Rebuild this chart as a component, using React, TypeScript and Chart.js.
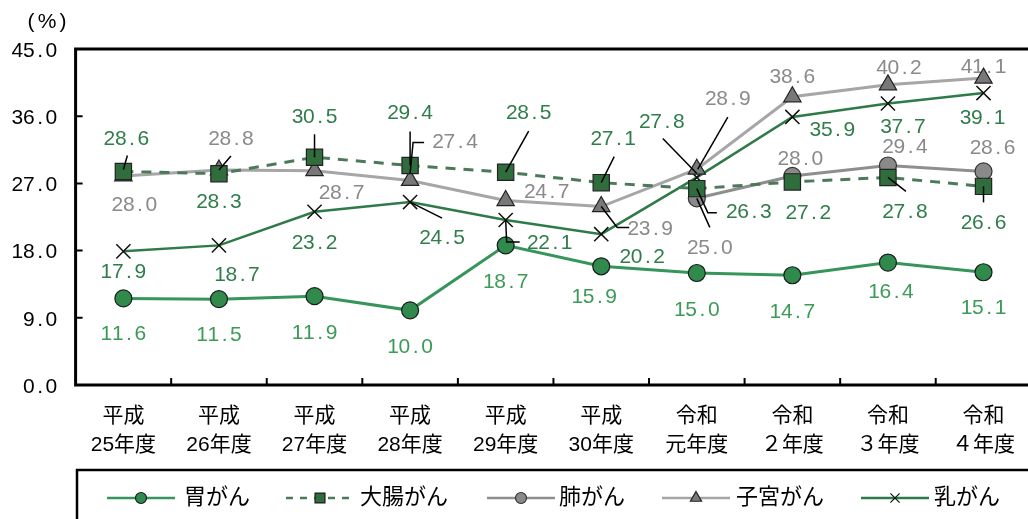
import React, { useEffect, useRef } from 'react';
import { Chart, registerables } from 'chart.js';

Chart.register(...registerables);

// ---------- data ----------
const categoriesTop = ['平成', '平成', '平成', '平成', '平成', '平成', '令和', '令和', '令和', '令和'];
const categoriesBottom = ['25年度', '26年度', '27年度', '28年度', '29年度', '30年度', '元年度', '２年度', '３年度', '４年度'];
const seriesNames = ['胃がん', '大腸がん', '肺がん', '子宮がん', '乳がん'];
const stomach = [11.6, 11.5, 11.9, 10.0, 18.7, 15.9, 15.0, 14.7, 16.4, 15.1];
const colorectal = [28.6, 28.3, 30.5, 29.4, 28.5, 27.1, 26.3, 27.2, 27.8, 26.6];
const lung = [null, null, null, null, null, null, 25.0, 28.0, 29.4, 28.6];
const uterus = [28.0, 28.8, 28.7, 27.4, 24.7, 23.9, 28.9, 38.6, 40.2, 41.1];
const breast = [17.9, 18.7, 23.2, 24.5, 22.1, 20.2, 27.8, 35.9, 37.7, 39.1];
const yTicks = [0, 9, 18, 27, 36, 45];
const yMax = 45;

// ---------- label layout (offsets from the point, in px) ----------
type Off = [number, number];
const stomachLabelOff: Off[] = [[0, 36], [0, 36], [0, 37], [0, 37], [0, 37], [-7, 31], [0, 37], [0, 37], [3, 30], [0, 36]];
const colorectalLabelOff: Off[] = [[3, -32], [0, 29], [0, -40], [0, -52], [23, -59], [12, -43], [52, 24], [16, 31], [17, 35], [0, 37]];
const lungLabelOff: Off[] = [[0, 0], [0, 0], [0, 0], [0, 0], [0, 0], [0, 0], [13, 50], [8, -17], [17, -18], [9, -23]];
const uterusLabelOff: Off[] = [[11, 29], [12, -31], [27, 22], [45, -38], [41, -8], [49, 23], [31, -70], [0, -20], [11, -17], [0, -11]];
const breastLabelOff: Off[] = [[0, 21], [18, 30], [0, 31], [32, 36], [44, 23], [41, 23], [-35, -55], [40, 13], [15, 24], [-1, 25]];

type Leader = Off[] | null;
const colorectalLeaders: Leader[] = [[[4, -16], [0, -2]], null, [[0, -23], [0, 0]], [[0, -34], [0, 0]], [[23, -41], [0, 0]], [[13, -26], [0, 0]], [[0, 0], [11, 24], [20, 24]], null, [[0, 0], [18, 14]], [[0, 0], [0, 16]]];
const lungLeaders: Leader[] = [null, null, null, null, null, null, [[0, 0], [13, 29]], null, null, null];
const uterusLeaders: Leader[] = [null, [[12, -14], [0, 0]], null, [[14, -38], [3, -38], [0, -7]], null, [[0, 0], [16, 21], [28, 21]], [[31, -52], [1, 0]], null, null, null];
const breastLeaders: Leader[] = [null, null, null, [[0, 0], [32, 16]], [[0, 0], [1, 22], [14, 22]], null, [[-34, -39], [0, -4]], null, null, null];

// ---------- styles ----------
const COL_STOMACH_LINE = '#36955a';
const COL_STOMACH_PT = '#2f8a4c';
const COL_STOMACH_LBL = '#3d9a58';
const COL_CR_LINE = '#4b7a5b';
const COL_CR_PT = '#2f6d3d';
const COL_DKGREEN_LBL = '#2f7d4a';
const COL_LUNG_LINE = '#8e8e8e';
const COL_LUNG_PT = '#8a8a8a';
const COL_UT_LINE = '#a6a6a6';
const COL_UT_PT = '#787878';
const COL_GRAY_LBL = '#8a8a8a';
const COL_BREAST_LINE = '#2e7a48';

const NUM_FONT = '21px "Liberation Sans", Arial, sans-serif';
const JP_FONT = '21px "Liberation Sans", "Noto Sans CJK JP", sans-serif';
const LEGEND_FONT = '22px "Liberation Sans", "Noto Sans CJK JP", sans-serif';
const CELL = 11.3;

function drawCells(ctx: CanvasRenderingContext2D, text: string, cx: number, cy: number, align: 'center' | 'right') {
  const w = text.length * CELL;
  const x0 = align === 'center' ? cx - w / 2 : cx - w;
  ctx.textAlign = 'center';
  ctx.textBaseline = 'middle';
  for (let i = 0; i < text.length; i++) ctx.fillText(text[i], x0 + CELL * (i + 0.5), cy);
}

function drawMarker(ctx: CanvasRenderingContext2D, style: string, x: number, y: number, r: number, fill: string, stroke: string, lw: number) {
  ctx.save();
  ctx.fillStyle = fill;
  ctx.strokeStyle = stroke;
  ctx.lineWidth = lw;
  ctx.beginPath();
  if (style === 'circle') {
    ctx.arc(x, y, r, 0, Math.PI * 2);
    ctx.fill();
    ctx.stroke();
  } else if (style === 'rect') {
    const s = r * Math.SQRT1_2;
    ctx.rect(x - s, y - s, 2 * s, 2 * s);
    ctx.fill();
    ctx.stroke();
  } else if (style === 'triangle') {
    const h = r * Math.sin(Math.PI / 3);
    ctx.moveTo(x, y - r);
    ctx.lineTo(x + h, y + r / 2);
    ctx.lineTo(x - h, y + r / 2);
    ctx.closePath();
    ctx.fill();
    ctx.stroke();
  } else if (style === 'crossRot') {
    const o = r * Math.SQRT1_2;
    ctx.moveTo(x - o, y - o);
    ctx.lineTo(x + o, y + o);
    ctx.moveTo(x - o, y + o);
    ctx.lineTo(x + o, y - o);
    ctx.stroke();
  }
  ctx.restore();
}

const labelSpecs = [
  { ds: 0, off: stomachLabelOff, leaders: null as Leader[] | null, color: COL_STOMACH_LBL },
  { ds: 1, off: colorectalLabelOff, leaders: colorectalLeaders, color: COL_DKGREEN_LBL },
  { ds: 2, off: lungLabelOff, leaders: lungLeaders, color: COL_GRAY_LBL },
  { ds: 3, off: uterusLabelOff, leaders: uterusLeaders, color: COL_GRAY_LBL },
  { ds: 4, off: breastLabelOff, leaders: breastLeaders, color: COL_DKGREEN_LBL },
];

const legendItems = [
  { lineX: 107, textX: 184, style: 'circle', r: 5.5, line: COL_STOMACH_LINE, fill: COL_STOMACH_PT, stroke: '#1b1b1b', dash: [] as number[] },
  { lineX: 286, textX: 360, style: 'rect', r: 7, line: COL_CR_LINE, fill: COL_CR_PT, stroke: '#1b1b1b', dash: [7, 7] },
  { lineX: 487, textX: 559, style: 'circle', r: 5.5, line: COL_LUNG_LINE, fill: COL_LUNG_PT, stroke: '#333', dash: [] as number[] },
  { lineX: 662, textX: 736, style: 'triangle', r: 6.5, line: COL_UT_LINE, fill: COL_UT_PT, stroke: '#222', dash: [] as number[] },
  { lineX: 861, textX: 934, style: 'crossRot', r: 6.5, line: COL_BREAST_LINE, fill: '#000', stroke: '#111', dash: [] as number[] },
];

const overlayPlugin = {
  id: 'overlay',
  beforeDatasetsDraw(chart: any) {
    const { ctx, chartArea: a, scales } = chart;
    const x = scales.x;
    const y = scales.y;
    ctx.save();
    ctx.fillStyle = '#fff';
    ctx.fillRect(0, 0, chart.width, chart.height);

    // frame
    ctx.strokeStyle = '#000';
    ctx.lineWidth = 3;
    ctx.beginPath();
    ctx.moveTo(a.left, a.top);
    ctx.lineTo(a.right + 10, a.top);
    ctx.moveTo(a.left, a.top - 1.5);
    ctx.lineTo(a.left, a.bottom + 1.5);
    ctx.moveTo(a.left - 1.5, a.bottom);
    ctx.lineTo(a.right + 10, a.bottom);
    ctx.stroke();

    // inner ticks
    ctx.lineWidth = 2;
    ctx.beginPath();
    yTicks.forEach((v) => {
      const py = y.getPixelForValue(v);
      ctx.moveTo(a.left, py);
      ctx.lineTo(a.left + 7, py);
    });
    for (let i = 0; i < categoriesTop.length - 1; i++) {
      const bx = (x.getPixelForValue(i) + x.getPixelForValue(i + 1)) / 2;
      ctx.moveTo(bx, a.bottom);
      ctx.lineTo(bx, a.bottom - 7);
    }
    ctx.stroke();

    // y tick labels
    ctx.fillStyle = '#000';
    ctx.font = NUM_FONT;
    yTicks.forEach((v) => {
      drawCells(ctx, v.toFixed(1), 57, y.getPixelForValue(v) + 2, 'right');
    });
    // unit
    ctx.textAlign = 'center';
    ctx.textBaseline = 'middle';
    ctx.fillText('(', 31, 22);
    ctx.fillText('%', 47, 22);
    ctx.fillText(')', 63, 22);

    // x labels
    ctx.font = JP_FONT;
    ctx.fillStyle = '#000';
    ctx.textAlign = 'center';
    ctx.textBaseline = 'middle';
    categoriesTop.forEach((t, i) => {
      const px = x.getPixelForValue(i);
      ctx.fillText(t, px, a.bottom + 31);
      ctx.fillText(categoriesBottom[i], px, a.bottom + 60);
    });

    // data labels
    ctx.font = NUM_FONT;
    labelSpecs.forEach((spec) => {
      const meta = chart.getDatasetMeta(spec.ds);
      const values = chart.data.datasets[spec.ds].data;
      ctx.fillStyle = spec.color;
      meta.data.forEach((pt: any, i: number) => {
        const v = values[i];
        if (v === null || v === undefined) return;
        const [dx, dy] = spec.off[i];
        drawCells(ctx, Number(v).toFixed(1), pt.x + dx, pt.y + dy, 'center');
      });
    });
    ctx.restore();
  },
  afterDatasetsDraw(chart: any) {
    const { ctx } = chart;
    ctx.save();
    ctx.strokeStyle = '#000';
    ctx.lineWidth = 1.5;
    labelSpecs.forEach((spec) => {
      if (!spec.leaders) return;
      const meta = chart.getDatasetMeta(spec.ds);
      const values = chart.data.datasets[spec.ds].data;
      meta.data.forEach((pt: any, i: number) => {
        const l = spec.leaders![i];
        if (!l || values[i] === null) return;
        ctx.beginPath();
        l.forEach(([dx, dy], k) => {
          if (k === 0) ctx.moveTo(pt.x + dx, pt.y + dy);
          else ctx.lineTo(pt.x + dx, pt.y + dy);
        });
        ctx.stroke();
      });
    });

    // legend box
    ctx.lineWidth = 2.5;
    ctx.strokeStyle = '#000';
    ctx.strokeRect(77, 470, 2000, 300);
    const ly = 498;
    legendItems.forEach((it, k) => {
      ctx.save();
      ctx.strokeStyle = it.line;
      ctx.lineWidth = 2.5;
      ctx.setLineDash(it.dash);
      ctx.beginPath();
      ctx.moveTo(it.lineX, ly);
      ctx.lineTo(it.lineX + 68, ly);
      ctx.stroke();
      ctx.restore();
      drawMarker(ctx, it.style, it.lineX + 34, ly, it.r, it.fill, it.stroke, 1.2);
      ctx.fillStyle = '#000';
      ctx.font = LEGEND_FONT;
      ctx.textAlign = 'left';
      ctx.textBaseline = 'middle';
      ctx.fillText(seriesNames[k], it.textX, ly);
    });
    ctx.restore();
  },
};

export default function App() {
  const canvasRef = useRef<HTMLCanvasElement | null>(null);

  useEffect(() => {
    if (!canvasRef.current) return;
    const labels = categoriesTop.map((t, i) => t + categoriesBottom[i]);
    const chart = new Chart(canvasRef.current, {
      type: 'line',
      data: {
        labels,
        datasets: [
          {
            label: seriesNames[0],
            data: stomach,
            borderColor: COL_STOMACH_LINE,
            borderWidth: 3,
            pointStyle: 'circle',
            pointRadius: 8.5,
            pointBackgroundColor: COL_STOMACH_PT,
            pointBorderColor: '#1b1b1b',
            pointBorderWidth: 1.2,
          },
          {
            label: seriesNames[1],
            data: colorectal,
            borderColor: COL_CR_LINE,
            borderWidth: 3,
            borderDash: [10, 8],
            pointStyle: 'rect',
            pointRadius: 11.5,
            pointBackgroundColor: COL_CR_PT,
            pointBorderColor: '#222',
            pointBorderWidth: 1.2,
          },
          {
            label: seriesNames[2],
            data: lung,
            borderColor: COL_LUNG_LINE,
            borderWidth: 3,
            pointStyle: 'circle',
            pointRadius: 8.5,
            pointBackgroundColor: COL_LUNG_PT,
            pointBorderColor: '#333',
            pointBorderWidth: 1.2,
            spanGaps: false,
          },
          {
            label: seriesNames[3],
            data: uterus,
            borderColor: COL_UT_LINE,
            borderWidth: 3,
            pointStyle: 'triangle',
            pointRadius: 10,
            pointBackgroundColor: COL_UT_PT,
            pointBorderColor: '#222',
            pointBorderWidth: 1.2,
          },
          {
            label: seriesNames[4],
            data: breast,
            borderColor: COL_BREAST_LINE,
            borderWidth: 2.5,
            pointStyle: 'crossRot',
            pointRadius: 10,
            pointBackgroundColor: '#000',
            pointBorderColor: '#111',
            pointBorderWidth: 1.5,
          },
        ],
      },
      options: {
        animation: false,
        responsive: true,
        maintainAspectRatio: false,
        events: [],
        layout: { padding: { left: 75.6, top: 49, right: 4.4, bottom: 134 } },
        scales: {
          x: { type: 'category', display: false, offset: true },
          y: { display: false, min: 0, max: yMax },
        },
        plugins: {
          legend: { display: false },
          tooltip: { enabled: false },
        },
      },
      plugins: [overlayPlugin],
    } as any);
    return () => chart.destroy();
  }, []);

  return (
    <div style={{ position: 'fixed', left: 0, top: 0, width: 1028, height: 519, overflow: 'hidden', background: '#fff' }}>
      <div style={{ position: 'absolute', left: 0, top: 0, width: 1044, height: 519 }}>
        <canvas ref={canvasRef} />
      </div>
    </div>
  );
}
